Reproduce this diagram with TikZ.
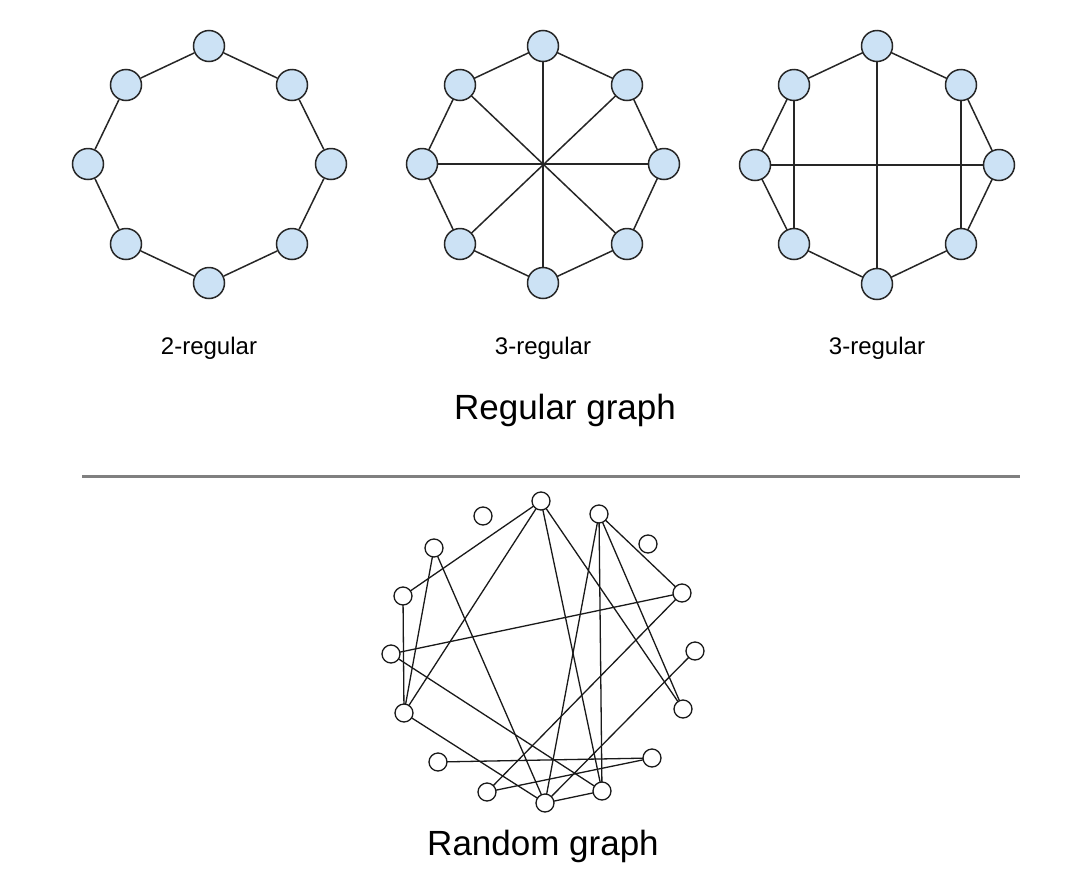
\documentclass[tikz,border=0pt]{standalone}
\usepackage{fontspec}
\setmainfont{Liberation Sans}
\usetikzlibrary{backgrounds}
\begin{document}
\begin{tikzpicture}[x=1pt,y=-1pt,
  reg/.style={circle,draw=black!85,fill=nodeblue,line width=1.5pt,minimum size=31pt,inner sep=0pt},
  rnd/.style={circle,draw=black!90,fill=white,line width=1.3pt,minimum size=18pt,inner sep=0pt},
  edge/.style={draw=black!85,line width=1.5pt},
  redge/.style={draw=black!90,line width=1.3pt},
  sub/.style={font=\fontsize{24}{28}\selectfont},
  ttl/.style={font=\fontsize{35}{40}\selectfont}]
\definecolor{nodeblue}{RGB}{204,226,245}
\useasboundingbox (0,0) rectangle (1080,876);
% ---- 2-regular
\foreach \n/\x/\y in {1/209/46,2/292/85,3/331/164,4/292/244,5/209/283,6/126/244,7/88/164,8/126/85}
  \node[reg] (a\n) at (\x,\y) {};
% ---- 3-regular (diameters)
\foreach \n/\x/\y in {1/543/46,2/627/85,3/664/164,4/627/244,5/543/283,6/460/244,7/422/164,8/460/85}
  \node[reg] (b\n) at (\x,\y) {};
% ---- 3-regular (other)
\foreach \n/\x/\y in {1/877/46,2/961/85,3/999/165,4/961/244,5/877/284,6/794/244,7/755/165,8/794/85}
  \node[reg] (c\n) at (\x,\y) {};
% ---- random graph nodes
\foreach \n/\x/\y in {A/541/501,B/483/516,C/599/514,D/648/544,E/434/548,F/682/593,G/403/596,H/695/651,I/391/654,J/683/709,K/404/713,L/438/762,M/652/758,N/487/792,O/545/803,P/602/791}
  \node[rnd] (\n) at (\x,\y) {};
\begin{scope}[on background layer]
\foreach \i/\j in {1/2,2/3,3/4,4/5,5/6,6/7,7/8,8/1}
  \draw[edge] (a\i) -- (a\j);
\foreach \i/\j in {1/2,2/3,3/4,4/5,5/6,6/7,7/8,8/1,1/5,2/6,3/7,4/8}
  \draw[edge] (b\i.center) -- (b\j.center);
\foreach \i/\j in {1/2,2/3,3/4,4/5,5/6,6/7,7/8,8/1,1/5,3/7,2/4,8/6}
  \draw[edge] (c\i.center) -- (c\j.center);
\foreach \i/\j in {A/G,A/K,A/P,A/J,C/O,C/P,C/J,C/F,E/K,E/O,G/K,I/F,I/P,K/O,F/N,H/O,L/M,N/M,O/P}
  \draw[redge] (\i.center) -- (\j.center);
\end{scope}
% ---- labels
\node[sub] (l1) at (209,348) {2-regular};
\node[sub] (l2) at (543,348) {3-regular};
\node[sub] (l3) at (877,348) {3-regular};
\node[ttl] (t1) at (565,410) {Regular graph};
% ---- separator
\coordinate (s1) at (82,476);
\coordinate (s2) at (1020,476);
\draw[line width=3pt,draw={rgb,255:red,128;green,128;blue,128}] (s1) -- (s2);
\node[ttl] (t2) at (543,846) {Random graph};
\end{tikzpicture}
\end{document}
